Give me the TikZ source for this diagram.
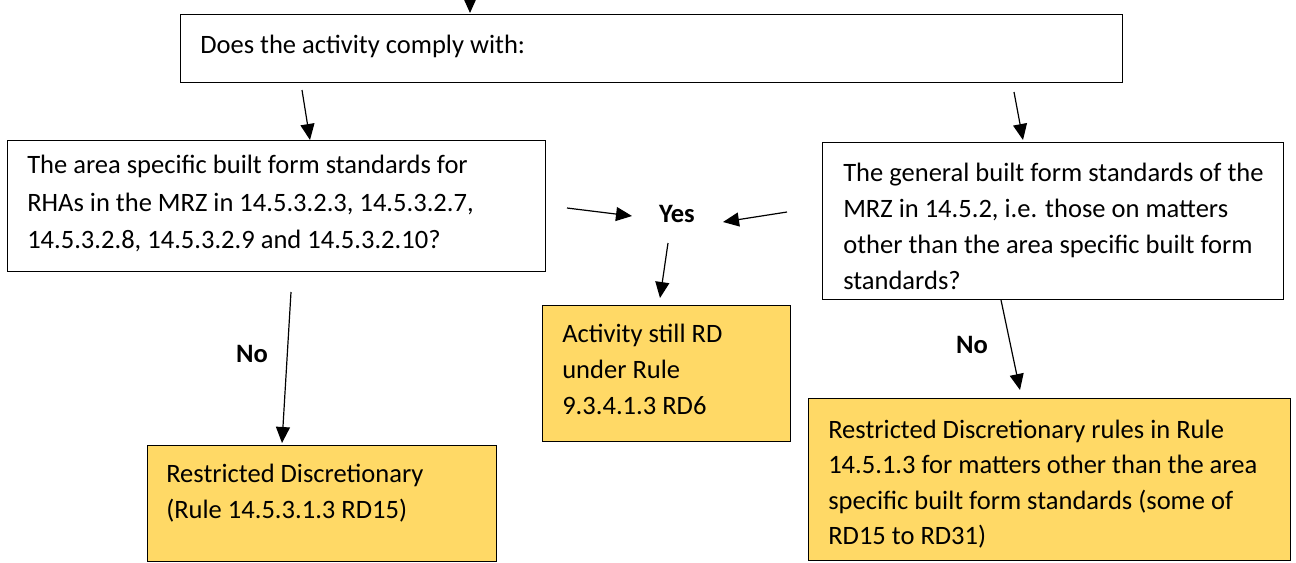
\documentclass[tikz,border=0pt]{standalone}
\usepackage{fontspec}
\setmainfont{Carlito}
\usetikzlibrary{arrows.meta}
\definecolor{gold}{HTML}{FFD966}
\tikzset{
  box/.style={draw=black, line width=0.9pt, anchor=north west, inner sep=0pt},
  whitebox/.style={box, fill=white},
  yellowbox/.style={box, fill=gold},
  txt/.style={anchor=north west, inner sep=0pt, align=left, font=\fontsize{19.9}{27}\selectfont},
  lbl/.style={inner sep=0pt, font=\fontsize{19.9}{27}\selectfont\bfseries},
  arr/.style={line width=0.9pt, -{Triangle[length=12pt,width=10.5pt]}},
}
\begin{document}
\begin{tikzpicture}[x=0.75pt,y=-0.75pt]
\useasboundingbox (0,0) rectangle (1296,562);
% boxes
\node[whitebox, minimum width=942*0.75pt, minimum height=68*0.75pt] (top) at (180,14) {};
\node[whitebox, minimum width=538*0.75pt, minimum height=131*0.75pt] (left) at (7,140) {};
\node[whitebox, minimum width=461*0.75pt, minimum height=157*0.75pt] (right) at (822,142) {};
\node[yellowbox, minimum width=248*0.75pt, minimum height=136*0.75pt] (mid) at (542,305) {};
\node[yellowbox, minimum width=349*0.75pt, minimum height=116*0.75pt] (lres) at (147,445) {};
\node[yellowbox, minimum width=482*0.75pt, minimum height=162*0.75pt] (rres) at (808,398) {};
% texts
\node[txt] (ttop) at (200,35) {Does the activity comply with:};
\node[txt, font=\fontsize{19.9}{28}\selectfont] (tleft) at (27,155) {The area specific built form standards for\\RHAs in the MRZ in 14.5.3.2.3, 14.5.3.2.7,\\14.5.3.2.8, 14.5.3.2.9 and 14.5.3.2.10?};
\node[txt] (tright) at (843,163) {The general built form standards of the\\MRZ in 14.5.2, i.e. those on matters\\other than the area specific built form\\standards?};
\node[txt] (tmid) at (562,324) {Activity still RD\\under Rule\\9.3.4.1.3 RD6};
\node[txt] (tlres) at (166,464) {Restricted Discretionary\\(Rule 14.5.3.1.3 RD15)};
\node[txt, font=\fontsize{19.9}{26.4}\selectfont] (trres) at (828,420) {Restricted Discretionary rules in Rule\\14.5.1.3 for matters other than the area\\specific built form standards (some of\\RD15 to RD31)};
% labels
\node[lbl] (yes) at (677,214) {Yes};
\node[lbl] (nol) at (252,354) {No};
\node[lbl] (nor) at (972,345) {No};
% arrow end points
\coordinate (a0s) at (470,0);   \coordinate (a0e) at (470,13);
\coordinate (a1s) at (302,90);  \coordinate (a1e) at (310,140);
\coordinate (a2s) at (1014,92); \coordinate (a2e) at (1023,140);
\coordinate (a3s) at (567,208); \coordinate (a3e) at (632,216);
\coordinate (a4s) at (787,212); \coordinate (a4e) at (723,222);
\coordinate (a5s) at (668,243); \coordinate (a5e) at (660,298);
\coordinate (a6s) at (291,292); \coordinate (a6e) at (282,443);
\coordinate (a7s) at (1001,300);\coordinate (a7e) at (1020,390);
\draw[arr] (a0s) -- (a0e);
\draw[arr] (a1s) -- (a1e);
\draw[arr] (a2s) -- (a2e);
\draw[arr] (a3s) -- (a3e);
\draw[arr] (a4s) -- (a4e);
\draw[arr] (a5s) -- (a5e);
\draw[arr] (a6s) -- (a6e);
\draw[arr] (a7s) -- (a7e);
\end{tikzpicture}
\end{document}
